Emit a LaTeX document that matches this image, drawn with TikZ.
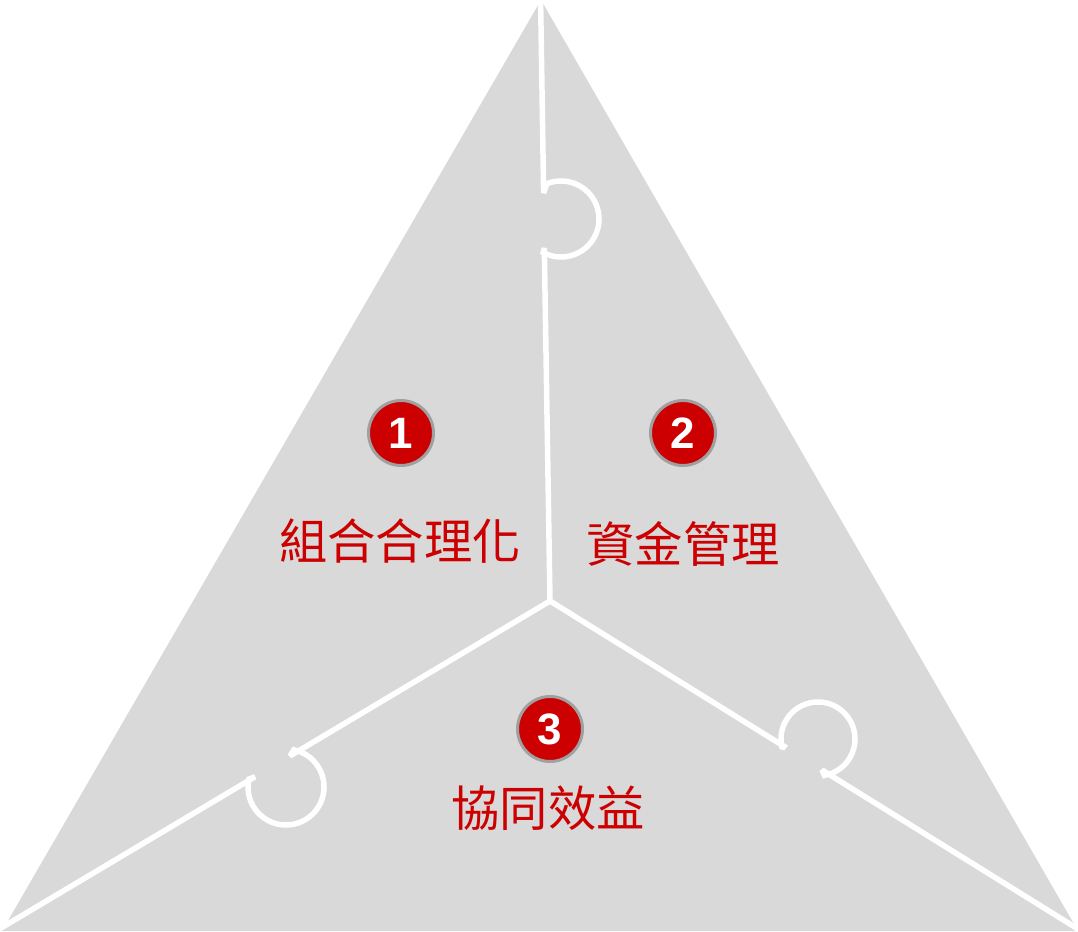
\documentclass[tikz,border=0pt]{standalone}
\usepackage{fontspec}
\newfontfamily\cjkfont{Noto Sans CJK TC}
\newfontfamily\numfont{Liberation Sans}
\definecolor{panelgray}{HTML}{D9D9D9}
\definecolor{mainred}{HTML}{CC0000}
\definecolor{ringgray}{HTML}{A0A0A0}
\tikzset{
  divider/.style={draw=white, line width=0.11cm, line join=miter, miter limit=1.5},
  badge/.style={circle, fill=mainred, draw=ringgray, line width=0.06cm, minimum size=1.3cm, inner sep=0pt,
    text=white, font=\numfont\bfseries\fontsize{25}{28}\selectfont},
  label/.style={inner sep=0pt, text=mainred, font=\cjkfont\fontsize{27.5}{30}\selectfont}
}
\begin{document}
\begin{tikzpicture}[x=0.02cm, y=-0.02cm]
\useasboundingbox (0,0) rectangle (1078,932);
% triangle
\fill[panelgray] (541,0) -- (1078,931) -- (2,931) -- cycle;
% vertical divider with tab
\draw[divider] (540.5,-6) -- (543.6,193) -- ([shift={(-112:38)}]561,219)
  arc[start angle=-112, end angle=118, radius=38] -- (544.3,248) -- (550,601);
% lower-left divider with tab
\draw[divider] (550,601) -- (290,756) -- ([shift={(-78:38)}]286,787)
  arc[start angle=-78, end angle=192, radius=38] -- (255,776.8) -- (-4,931);
% lower-right divider with tab
\draw[divider] (550,601) -- (784,746.3) -- ([shift={(165:37)}]818,739)
  arc[start angle=165, end angle=440, radius=37] -- (822,770) -- (1082,931.5);
% badges
\node[badge] (b1) at (401,433) {1};
\node[badge] (b2) at (683,433) {2};
\node[badge] (b3) at (550,729) {3};
% labels
\node[label] (t1) at (400,541) {組合合理化};
\node[label] (t2) at (683,544) {資金管理};
\node[label] (t3) at (548,808) {協同效益};
\end{tikzpicture}
\end{document}
